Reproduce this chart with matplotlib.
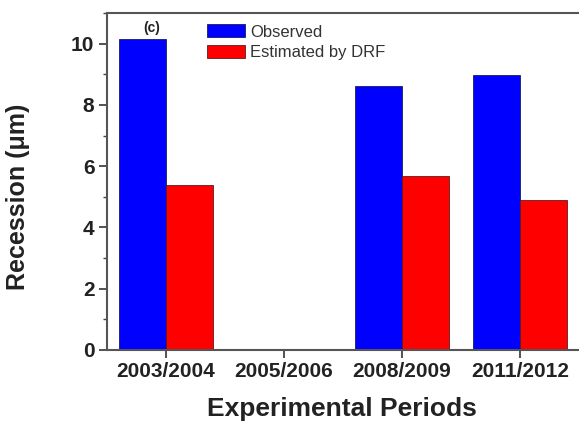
import numpy as np
import matplotlib
matplotlib.use("Agg")
import matplotlib.pyplot as plt
from matplotlib.ticker import MultipleLocator

plt.rcParams['font.family'] = ['Liberation Sans', 'DejaVu Sans']

periods = ['2003/2004', '2005/2006', '2008/2009', '2011/2012']
observed = [10.16, np.nan, 8.62, 8.98]
estimated = [5.40, np.nan, 5.67, 4.90]

fig = plt.figure(figsize=(5.79, 4.23), dpi=100)
ax = fig.add_axes([0.1848, 0.1726, 0.8152, 0.7967])

x = np.arange(len(periods))
w = 0.4
ax.bar(x - w / 2, observed, w, color='#0000ff', edgecolor='#1a1a60', linewidth=0.6, label='Observed')
ax.bar(x + w / 2, estimated, w, color='#ff0000', edgecolor='#601a1a', linewidth=0.6, label='Estimated by DRF')

ax.set_xlim(-0.5, 3.5)
ax.set_ylim(0, 11)
ax.set_xticks(x)
ax.set_xticklabels(periods, fontsize=15, fontweight='bold', color='#222222')
ax.yaxis.set_major_locator(MultipleLocator(2))
ax.yaxis.set_minor_locator(MultipleLocator(1))
for lab in ax.get_yticklabels():
    lab.set_fontsize(15)
    lab.set_fontweight('bold')
    lab.set_color('#222222')

ax.tick_params(axis='both', which='major', direction='out', length=6, width=1.3, color='#444444', pad=3)
ax.tick_params(axis='y', which='minor', direction='out', length=3, width=1.0, color='#444444')

for side in ['left', 'bottom', 'top']:
    ax.spines[side].set_color('#555555')
    ax.spines[side].set_linewidth(1.5)
ax.spines['right'].set_visible(False)

ax.set_xlabel('Experimental Periods', fontsize=19, fontweight='bold', color='#222222')
ax.xaxis.set_label_coords(0.498, -0.14)
ax.set_ylabel('Recession (\u03bcm)', fontsize=18, fontweight='bold', color='#222222')
ax.yaxis.set_label_coords(-0.163, 0.455)

ax.text(-0.12, 10.5, '(c)', fontsize=10, fontweight='bold', ha='center', va='center', color='#222222')

ax.legend(loc='upper left', bbox_to_anchor=(0.212, 0.967), frameon=False,
          fontsize=12, handlelength=2.3, handleheight=0.85, labelspacing=0.3,
          handletextpad=0.3, borderpad=0, borderaxespad=0, labelcolor='#333333')

fig.savefig('out.png', dpi=100)
